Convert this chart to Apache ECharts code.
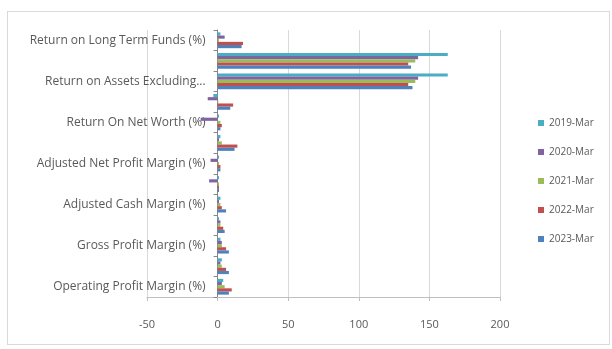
<!DOCTYPE html>
<html>
<head>
<meta charset="utf-8">
<script src="https://cdn.jsdelivr.net/npm/echarts@6/dist/echarts.min.js"></script>
<style>
  body { margin: 0; background: #fff; }
  #chart { width: 612px; height: 349px; position: relative; }
  .frame {
    position: absolute; left: 7px; top: 11px; width: 603px; height: 334px;
    border: 1px solid #d9d9d9; box-sizing: border-box; pointer-events: none;
  }
</style>
</head>
<body>
<div id="chart"></div>
<div class="frame"></div>
<script>
// categories listed bottom to top, like the Excel bar chart
const categories = [
  'Operating Profit Margin (%)',
  'Profit Before Interest And Tax Margin (%)',
  'Gross Profit Margin (%)',
  'Cash Profit Margin (%)',
  'Adjusted Cash Margin (%)',
  'Net Profit Margin (%)',
  'Adjusted Net Profit Margin (%)',
  'Return On Capital Employed (%)',
  'Return On Net Worth (%)',
  'Adjusted Return on Net Worth (%)',
  'Return on Assets Excluding Revaluations',
  'Return on Assets Including Revaluations',
  'Return on Long Term Funds (%)'
]

const seriesNames = ['2019-Mar', '2020-Mar', '2021-Mar', '2022-Mar', '2023-Mar']

const mar2019 = [4, 3, 2, 1, 2, 1, 1, 2, 1, -3, 163, 163, 2]
const mar2020 = [3, 2, 3, 2, 1, -6, -5, 1, -12, -7, 142, 142, 5]
const mar2021 = [5, 3, 3, 2, 2, 1, 1, 3, 2, 0.5, 140, 140, 1]
const mar2022 = [10, 6, 6, 4, 3, 1, 2, 14, 3, 11, 135, 135, 18]
const mar2023 = [8, 8, 8, 5, 6, 1, 2, 12, 2, 9, 138, 137, 17]

const valueTicks = [-50, 0, 50, 100, 150, 200]

const colors = ['#4BACC6', '#8064A2', '#9BBB59', '#C0504D', '#4F81BD']
const FONT = 'Open Sans'

const chart = echarts.init(document.getElementById('chart'))

const allValues = [mar2019, mar2020, mar2021, mar2022, mar2023]

// plot box, the category axis sits at value 0 like in Excel
const gridLeft = 147
const gridRight = 112
const plotWidth = 612 - gridLeft - gridRight
const vMin = valueTicks[0]
const vMax = valueTicks[valueTicks.length - 1]
const zeroShift = (0 - vMin) / (vMax - vMin) * plotWidth

// long names get cut short, as Excel does
const categoryItems = categories.map((name) =>
  name.length > 32
    ? { value: name, textStyle: { width: 164, overflow: 'truncate', ellipsis: '...' } }
    : name
)

const option = {
  animation: false,
  color: colors,
  textStyle: { fontFamily: FONT },
  grid: { left: gridLeft, right: gridRight, top: 30, bottom: 52, outerBoundsMode: 'none', containLabel: false },
  legend: {
    orient: 'vertical',
    left: 533,
    top: 113,
    icon: 'rect',
    itemWidth: 6,
    itemHeight: 6,
    itemGap: 19,
    textStyle: { color: '#595959', fontSize: 10, fontFamily: FONT },
    data: seriesNames
  },
  xAxis: {
    type: 'value',
    min: vMin,
    max: vMax,
    interval: 50,
    axisLine: { show: true, lineStyle: { color: '#bfbfbf' } },
    axisTick: { show: true, length: 4, lineStyle: { color: '#bfbfbf' } },
    axisLabel: { color: '#595959', fontSize: 11, margin: 22 },
    splitLine: { show: true, lineStyle: { color: '#d9d9d9' } }
  },
  yAxis: {
    type: 'category',
    data: categoryItems,
    offset: -zeroShift,
    axisLine: { onZero: false, lineStyle: { color: '#868686' } },
    axisTick: { show: true, length: 4, interval: 0, lineStyle: { color: '#868686' } },
    axisLabel: {
      interval: 1,
      color: '#595959',
      fontSize: 12,
      margin: 12,
      width: 185,
      overflow: 'truncate',
      ellipsis: '...'
    },
    splitLine: { show: false }
  },
  series: seriesNames.map((name, i) => ({
    name: name,
    type: 'bar',
    data: allValues[i],
    barGap: '0%',
    barCategoryGap: '23%'
  }))
}

chart.setOption(option)
</script>
</body>
</html>
